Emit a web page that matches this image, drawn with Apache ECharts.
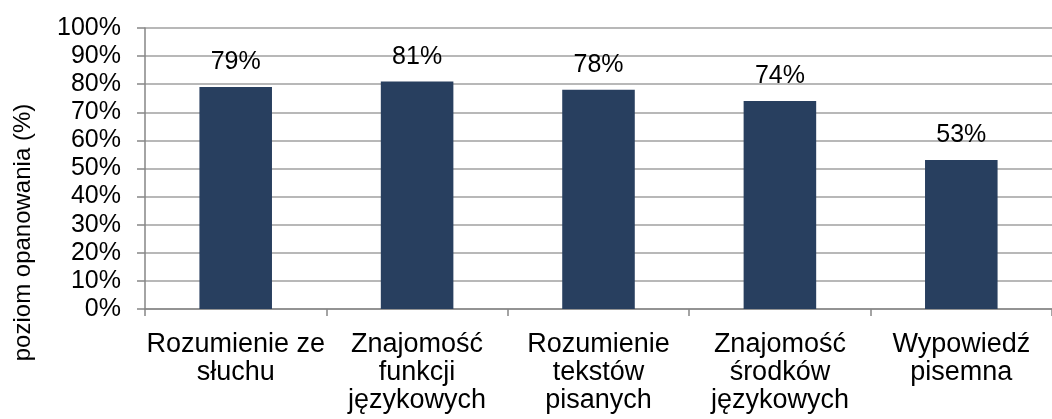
<!DOCTYPE html>
<html>
<head>
<meta charset="utf-8">
<script src="https://cdn.jsdelivr.net/npm/echarts@6/dist/echarts.min.js"></script>
<style>
    html, body { margin: 0; padding: 0; background: #fff; }
    #chart { width: 1052px; height: 419px; }
</style>
</head>
<body>
<div id="chart"></div>
<script>
// dane z wykresu
const categories = ['Rozumienie ze\nsłuchu', 'Znajomość\nfunkcji\njęzykowych', 'Rozumienie\ntekstów\npisanych', 'Znajomość\nśrodków\njęzykowych', 'Wypowiedź\npisemna'];
const values = [79, 81, 78, 74, 53];
const yTicks = [0, 10, 20, 30, 40, 50, 60, 70, 80, 90, 100];

document.addEventListener('DOMContentLoaded', function() {
    const myChart = echarts.init(document.getElementById('chart'));
    const font = 'Liberation Sans, Arial, sans-serif';
    const option = {
        animation: false,
        grid: {
            left: 145,
            right: -12,
            top: 28,
            bottom: 110
        },
        xAxis: {
            type: 'category',
            data: categories,
            axisLine: { lineStyle: { color: '#868686', width: 1.5 } },
            axisTick: { show: true, length: 7, lineStyle: { color: '#868686', width: 1.5 } },
            axisLabel: {
                color: '#000',
                fontFamily: font,
                fontSize: 27,
                lineHeight: 28,
                margin: 22,
                interval: 0
            }
        },
        yAxis: {
            type: 'value',
            min: yTicks[0],
            max: yTicks[yTicks.length - 1],
            interval: 10,
            name: 'poziom opanowania (%)',
            nameLocation: 'middle',
            nameGap: 110,
            nameRotate: 90,
            // tytuł osi przesunięty w dół, jak w oryginale
            nameTextStyle: { color: '#000', fontFamily: font, fontSize: 24, padding: [0, 128, 0, 0] },
            axisLine: { show: true, lineStyle: { color: '#868686', width: 1.5 } },
            axisTick: { show: true, length: 8, lineStyle: { color: '#868686', width: 1.5 } },
            splitLine: { lineStyle: { color: '#a0a0a0', width: 1.5 } },
            axisLabel: {
                color: '#000',
                fontFamily: font,
                fontSize: 25,
                margin: 24,
                formatter: '{value}%'
            }
        },
        series: [
            {
                type: 'bar',
                data: values,
                barWidth: '40%',
                itemStyle: { color: '#283f5f' },
                label: {
                    show: true,
                    position: 'top',
                    distance: 12,
                    color: '#000',
                    fontFamily: font,
                    fontSize: 25,
                    formatter: '{c}%'
                }
            }
        ]
    };
    myChart.setOption(option);
});
</script>
</body>
</html>
